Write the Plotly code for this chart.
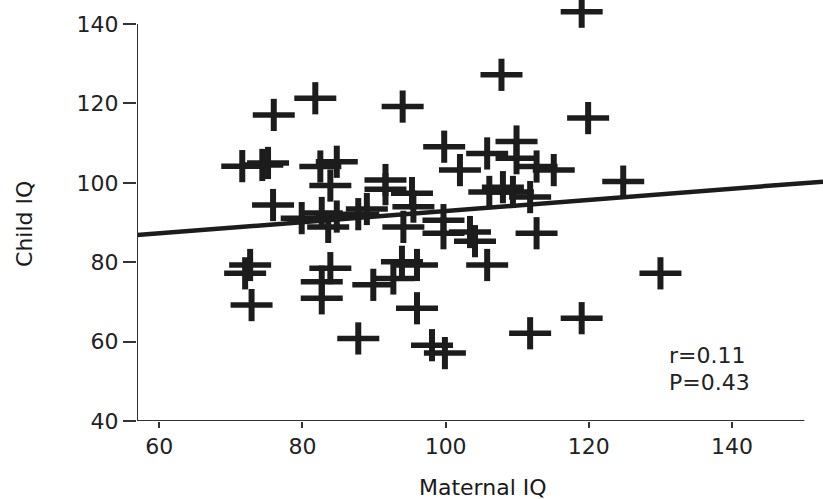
import plotly.graph_objects as go

# Data
maternal_iq = [119.0, 107.8, 119.9, 76.0, 81.8, 94.0, 71.6, 74.4, 75.2, 82.5,
               84.8, 83.9, 75.9, 91.6, 91.6, 95.3, 95.5, 94.1, 79.9, 82.7,
               83.6, 84.8, 87.8, 89.0, 99.8, 102.0, 105.8, 109.9, 109.9, 112.7,
               115.1, 124.8, 106.1, 108.0, 109.4, 111.8, 99.7, 99.7, 103.4, 104.1,
               112.7, 72.7, 72.0, 72.9, 83.9, 82.7, 82.7, 89.9, 92.7, 93.9,
               96.0, 96.0, 87.8, 98.1, 99.9, 105.8, 111.8, 119.0, 130.0]
child_iq = [143.1, 127.2, 116.3, 117.1, 121.3, 119.2, 104.2, 104.5, 105.0, 104.1,
            105.3, 99.3, 94.4, 100.7, 98.4, 97.4, 94.0, 88.9, 91.1, 92.4,
            88.9, 91.5, 92.1, 93.4, 109.1, 103.2, 107.4, 110.4, 106.2, 104.1,
            103.2, 100.3, 97.7, 98.9, 97.7, 96.4, 90.6, 87.3, 87.6, 85.3,
            87.3, 79.3, 77.2, 69.2, 78.5, 75.1, 70.9, 74.3, 75.9, 80.1,
            79.3, 68.4, 60.8, 59.1, 57.1, 79.3, 62.1, 65.9, 77.2]

fit_x = [56.9, 152.7]
fit_y = [86.85, 100.3]

x_ticks = [60, 80, 100, 120, 140]
y_ticks = [40, 60, 80, 100, 120, 140]

stats_lines = ["r=0.11", "P=0.43"]

ink = "#1c1c1c"
font_family = "DejaVu Sans"

fig = go.Figure()

# Plus markers built from a horizontal and a vertical stroke (wider than tall)
fig.add_trace(go.Scatter(
    x=maternal_iq, y=child_iq, mode="markers",
    marker=dict(symbol="line-ew", size=30, line=dict(width=5.5, color=ink)),
    cliponaxis=False, showlegend=False, hoverinfo="skip"))
fig.add_trace(go.Scatter(
    x=maternal_iq, y=child_iq, mode="markers",
    marker=dict(symbol="line-ns", size=23, line=dict(width=6, color=ink)),
    cliponaxis=False, showlegend=False))

# Regression line
fig.add_trace(go.Scatter(
    x=fit_x, y=fit_y, mode="lines",
    line=dict(color=ink, width=4.5), showlegend=False, hoverinfo="skip"))

x_min, x_max = 56.9, 152.7
y_min, y_max = 40, 146.05

fig.update_layout(
    width=823, height=499,
    margin=dict(l=137, r=0, t=0, b=78, autoexpand=False),
    paper_bgcolor="white", plot_bgcolor="white",
    font=dict(family=font_family, color="#222222", size=22),
    xaxis=dict(range=[x_min, x_max], tickvals=x_ticks, ticks="outside",
               ticklen=6, tickwidth=2, tickcolor="#333333",
               showline=False, showgrid=False, zeroline=False,
               tickfont=dict(size=22, family=font_family, color="#222222")),
    yaxis=dict(range=[y_min, y_max], tickvals=y_ticks, ticks="outside",
               ticklen=13, tickwidth=2, tickcolor="#333333",
               showline=False, showgrid=False, zeroline=False,
               tickfont=dict(size=22, family=font_family, color="#222222")),
    shapes=[
        dict(type="line", xref="x", yref="y", x0=x_min, x1=x_min,
             y0=40, y1=140, line=dict(color="#333333", width=2)),
        dict(type="line", xref="x", yref="y", x0=x_min, x1=150.1,
             y0=40, y1=40, line=dict(color="#333333", width=2)),
    ],
    annotations=[
        dict(text="Maternal IQ", xref="paper", yref="paper", x=0.505, y=0,
             yshift=-66, showarrow=False, xanchor="center", yanchor="middle",
             font=dict(size=22, family=font_family, color="#1a1a1a")),
        dict(text="Child IQ", xref="paper", yref="paper", x=-0.1633, y=0.468,
             textangle=-90, showarrow=False, xanchor="center", yanchor="middle",
             font=dict(size=22, family=font_family, color="#1a1a1a")),
        dict(text=stats_lines[0], xref="x", yref="y", x=130.9, y=56.6,
             showarrow=False, xanchor="left", yanchor="middle",
             font=dict(size=22, family=font_family, color="#222222")),
        dict(text=stats_lines[1], xref="x", yref="y", x=130.9, y=49.6,
             showarrow=False, xanchor="left", yanchor="middle",
             font=dict(size=22, family=font_family, color="#222222")),
    ],
)

fig.write_html(
    "out.html",
    config={"displayModeBar": False},
    post_script="document.body.style.margin='0';document.body.style.padding='0';",
)
